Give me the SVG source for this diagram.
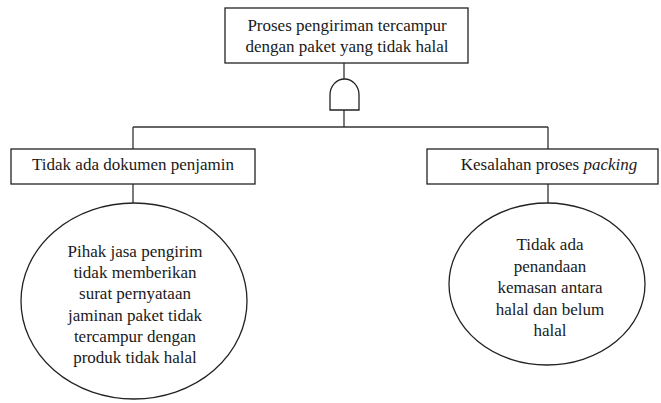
<svg xmlns="http://www.w3.org/2000/svg" width="661" height="403" viewBox="0 0 661 403">
<style>
.b{fill:#fff;stroke:#222;stroke-width:1.3}
.l{fill:none;stroke:#333;stroke-width:1.3}
text{font-family:'Liberation Serif','Times New Roman',serif;font-size:17px;fill:#1a1a1a;text-anchor:middle}
</style>
<rect width="661" height="403" fill="#fff"/>
<g id="connectors">
<path class="l" d="M344,63 V79 M344,110 V127 M133,127 H548 M133,127 V149 M548,127 V149 M133,184 V203 M548,184 V203"/>
</g>
<g id="top">
<rect class="b" x="225" y="8" width="243" height="55"/>
<text x="347" y="31">Proses pengiriman tercampur</text>
<text x="347" y="52">dengan paket yang tidak halal</text>
</g>
<g id="gate">
<path class="b" d="M330,110 V95 A14.5,16 0 0 1 359,95 V110 Z"/>
</g>
<g id="left">
<rect class="b" x="11" y="149" width="244" height="35"/>
<text x="133" y="169.5">Tidak ada dokumen penjamin</text>
</g>
<g id="right">
<rect class="b" x="427" y="149" width="231" height="35"/>
<text x="549" y="169.5">Kesalahan proses <tspan font-style="italic">packing</tspan></text>
</g>
<g id="leftBasic">
<ellipse class="b" cx="134" cy="301" rx="113" ry="98"/>
<text x="135" y="257">Pihak jasa pengirim</text>
<text x="135" y="278">tidak memberikan</text>
<text x="135" y="299">surat pernyataan</text>
<text x="135" y="321">jaminan paket tidak</text>
<text x="135" y="342">tercampur dengan</text>
<text x="135" y="363">produk tidak halal</text>
</g>
<g id="rightBasic">
<ellipse class="b" cx="547" cy="284" rx="98" ry="81"/>
<text x="550" y="250">Tidak ada</text>
<text x="550" y="272">penandaan</text>
<text x="550" y="293">kemasan antara</text>
<text x="550" y="315">halal dan belum</text>
<text x="550" y="336">halal</text>
</g>
</svg>
